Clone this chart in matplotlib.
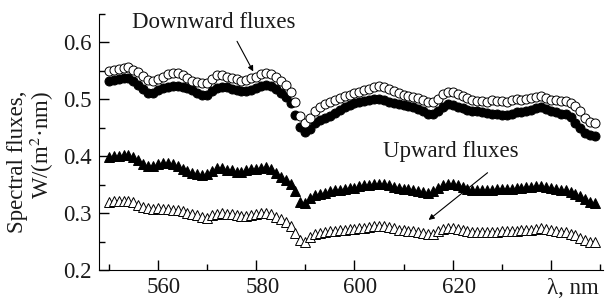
import numpy as np
import matplotlib
matplotlib.use("Agg")
import matplotlib.pyplot as plt
import matplotlib.transforms as mtrans
from matplotlib.ticker import MultipleLocator

plt.rcParams['font.family'] = ['Liberation Serif', 'DejaVu Serif']
plt.rcParams['mathtext.fontset'] = 'stix'

# wavelength, nm
wl = np.arange(550, 650, 1)

# downward flux, open circles
down_open = [0.550, 0.551, 0.553, 0.555, 0.557, 0.552, 0.548, 0.541, 0.534, 0.533,
             0.536, 0.540, 0.544, 0.546, 0.546, 0.543, 0.538, 0.533, 0.530, 0.528,
             0.529, 0.536, 0.542, 0.543, 0.540, 0.537, 0.535, 0.533, 0.534, 0.537,
             0.540, 0.544, 0.547, 0.545, 0.540, 0.533, 0.525, 0.513, 0.495, 0.470,
             0.458, 0.468, 0.480, 0.486, 0.492, 0.495, 0.498, 0.502, 0.505, 0.508,
             0.511, 0.513, 0.516, 0.519, 0.521, 0.523, 0.521, 0.518, 0.514, 0.511,
             0.508, 0.506, 0.504, 0.502, 0.499, 0.496, 0.495, 0.501, 0.509, 0.513,
             0.513, 0.510, 0.506, 0.502, 0.499, 0.497, 0.497, 0.496, 0.498, 0.497,
             0.497, 0.496, 0.498, 0.500, 0.499, 0.500, 0.502, 0.504, 0.506, 0.503,
             0.499, 0.498, 0.497, 0.497, 0.493, 0.488, 0.480, 0.468, 0.460, 0.458]

# downward flux, filled circles
down_fill = [0.532, 0.534, 0.536, 0.538, 0.538, 0.533, 0.526, 0.518, 0.512, 0.512,
             0.516, 0.520, 0.522, 0.524, 0.523, 0.522, 0.520, 0.516, 0.511, 0.508,
             0.508, 0.514, 0.520, 0.522, 0.521, 0.519, 0.517, 0.515, 0.514, 0.517,
             0.520, 0.523, 0.526, 0.524, 0.519, 0.512, 0.504, 0.494, 0.473, 0.452,
             0.442, 0.448, 0.458, 0.464, 0.468, 0.471, 0.476, 0.481, 0.486, 0.490,
             0.493, 0.495, 0.497, 0.499, 0.500, 0.501, 0.499, 0.496, 0.493, 0.491,
             0.490, 0.488, 0.486, 0.483, 0.479, 0.475, 0.474, 0.480, 0.487, 0.491,
             0.490, 0.487, 0.484, 0.481, 0.479, 0.479, 0.478, 0.476, 0.475, 0.474,
             0.473, 0.473, 0.475, 0.477, 0.477, 0.479, 0.482, 0.484, 0.486, 0.483,
             0.479, 0.477, 0.475, 0.474, 0.469, 0.459, 0.450, 0.441, 0.437, 0.436]

# upward flux, filled triangles
up_fill = [0.399, 0.400, 0.401, 0.402, 0.403, 0.399, 0.393, 0.386, 0.382, 0.383,
           0.386, 0.388, 0.388, 0.386, 0.383, 0.378, 0.374, 0.371, 0.369, 0.367,
           0.368, 0.374, 0.379, 0.379, 0.376, 0.375, 0.373, 0.373, 0.375, 0.377,
           0.378, 0.380, 0.381, 0.378, 0.371, 0.364, 0.358, 0.352, 0.338, 0.320,
           0.318, 0.326, 0.331, 0.334, 0.336, 0.338, 0.340, 0.341, 0.342, 0.344,
           0.345, 0.347, 0.349, 0.350, 0.351, 0.352, 0.352, 0.349, 0.346, 0.344,
           0.343, 0.342, 0.341, 0.339, 0.337, 0.336, 0.338, 0.345, 0.350, 0.352,
           0.352, 0.350, 0.346, 0.343, 0.341, 0.341, 0.340, 0.340, 0.341, 0.342,
           0.342, 0.342, 0.343, 0.344, 0.345, 0.346, 0.346, 0.347, 0.347, 0.346,
           0.344, 0.342, 0.341, 0.340, 0.337, 0.334, 0.330, 0.324, 0.320, 0.318]

# upward flux, open triangles
up_open = [0.320, 0.321, 0.322, 0.322, 0.322, 0.319, 0.315, 0.311, 0.309, 0.308,
           0.309, 0.308, 0.307, 0.306, 0.305, 0.303, 0.300, 0.298, 0.296, 0.293,
           0.292, 0.296, 0.299, 0.300, 0.299, 0.298, 0.296, 0.295, 0.295, 0.297,
           0.299, 0.300, 0.300, 0.298, 0.294, 0.289, 0.284, 0.277, 0.265, 0.252,
           0.250, 0.258, 0.263, 0.265, 0.267, 0.268, 0.269, 0.270, 0.271, 0.272,
           0.272, 0.273, 0.274, 0.276, 0.277, 0.278, 0.277, 0.275, 0.273, 0.271,
           0.270, 0.269, 0.268, 0.267, 0.265, 0.263, 0.263, 0.268, 0.272, 0.274,
           0.274, 0.272, 0.270, 0.268, 0.267, 0.267, 0.266, 0.266, 0.266, 0.267,
           0.268, 0.268, 0.268, 0.269, 0.270, 0.271, 0.271, 0.272, 0.273, 0.272,
           0.270, 0.268, 0.267, 0.266, 0.264, 0.261, 0.257, 0.253, 0.250, 0.249]

fs = 16.5
txt = '#1a1a1a'

fig = plt.figure(figsize=(6.05, 2.98), dpi=100)
ax = fig.add_axes([99/605, 28/298, 504/605, 256/298])

ax.plot(wl, down_fill, 'o', ms=6.5, mfc='black', mec='black', mew=0.7, ls='none')
ax.plot(wl, down_open, 'o', ms=6.5, mfc='white', mec='black', mew=0.7, ls='none')
ax.plot(wl, up_fill, '^', ms=6.5, mfc='black', mec='black', mew=0.7, ls='none')
ax.plot(wl, up_open, '^', ms=6.5, mfc='white', mec='black', mew=0.7, ls='none')

ax.set_xlim(548, 650.6)
ax.set_ylim(0.2, 0.65)
ax.spines['top'].set_visible(False)
ax.spines['right'].set_visible(False)
ax.xaxis.set_minor_locator(MultipleLocator(10))
ax.yaxis.set_minor_locator(MultipleLocator(0.05))
ax.tick_params(which='major', direction='in', length=7, width=1, labelsize=fs,
               pad=5, labelcolor=txt)
ax.tick_params(which='minor', direction='in', length=4, width=1)
ax.set_xticks([560, 580, 600, 620, 640])
ax.set_xticklabels(['560', '580', '600', '620', ''])
ax.set_yticks([0.2, 0.3, 0.4, 0.5, 0.6])
ax.set_yticklabels(['0.2', '0.3', '0.4', '0.5', '0.6'])

# x labels sit a little right of their ticks in the original
shift = mtrans.ScaledTranslation(6/100, 0, fig.dpi_scale_trans)
for lab in ax.get_xticklabels():
    lab.set_transform(lab.get_transform() + shift)

ax.text(639.3, -0.03, 'λ, nm', transform=ax.get_xaxis_transform(),
        ha='left', va='top', fontsize=fs, color=txt)

fig.text(0.052, 0.456, 'Spectral fluxes,\nW/(m$^2$·nm)', rotation=90,
         ha='center', va='center', multialignment='right', fontsize=fs,
         linespacing=1.0, color=txt)

ax.text(554.7, 0.635, 'Downward fluxes', ha='left', va='center', fontsize=fs, color=txt)
ax.annotate('', xy=(579.4, 0.549), xytext=(576.1, 0.602),
            arrowprops=dict(arrowstyle='-|>', color='black', lw=0.8,
                            mutation_scale=8, shrinkA=0, shrinkB=0))
ax.text(605.9, 0.408, 'Upward fluxes', ha='left', va='center', fontsize=fs, color=txt)
ax.annotate('', xy=(615.1, 0.288), xytext=(627.1, 0.371),
            arrowprops=dict(arrowstyle='-|>', color='black', lw=0.8,
                            mutation_scale=8, shrinkA=0, shrinkB=0))

fig.savefig('out.png', dpi=100)
